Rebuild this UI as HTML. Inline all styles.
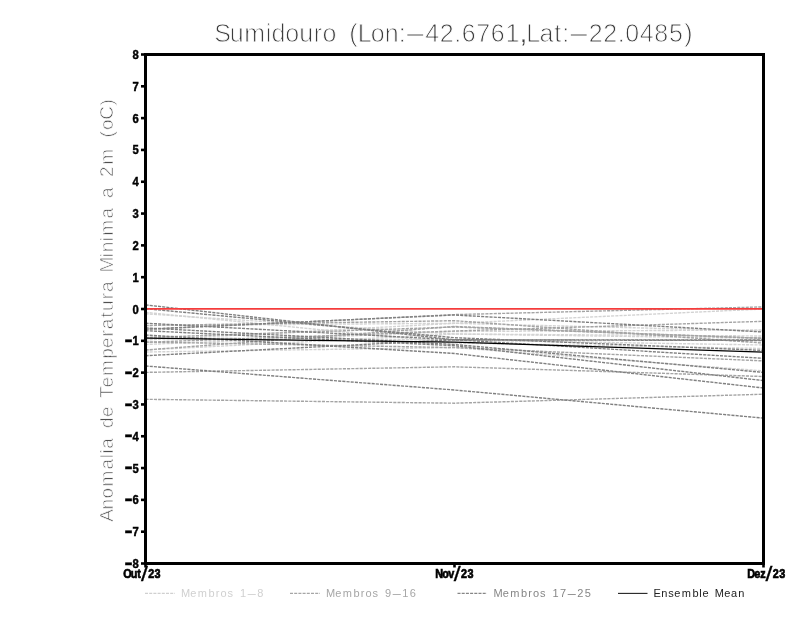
<!DOCTYPE html>
<html lang="pt">
<head>
<meta charset="utf-8">
<title>Sumidouro</title>
<style>
html,body{margin:0;padding:0;background:#fff;}
body{width:800px;height:618px;overflow:hidden;}
svg{display:block;}
text{font-family:"Liberation Sans","DejaVu Sans",sans-serif;white-space:pre;}
.thin{paint-order:fill stroke;stroke:#fff;stroke-linejoin:round;text-anchor:middle;}
.tick{font-weight:bold;font-size:12.5px;fill:#000;stroke:#000;stroke-width:0.45px;}
.leg{font-size:11px;text-anchor:middle;}
.mem{fill:none;stroke-width:1.4;stroke-dasharray:3.1 1.1;}
</style>
</head>
<body>
<svg width="800" height="618" viewBox="0 0 800 618">
<rect x="0" y="0" width="800" height="618" fill="#fff"/>
<text class="thin" x="222.6 236.8 254.7 268.6 278.4 292.3 306.2 317.9 329.5 342.3 353.3 364.6 377.7 391.6 402.2 415.3 432.1 446.7 457.7 468.6 483.2 497.8 512.4 523.4 533.2 546.4 557.7 565.7 578.8 595.6 610.2 621.2 632.1 646.7 661.3 675.9 688.3" y="42" font-size="25" fill="#3c3c3c" stroke-width="0.85" xml:space="preserve">Sumidouro (Lon:<tspan textLength="25" lengthAdjust="spacingAndGlyphs">-</tspan>42.6761<tspan stroke-width="0.2">,</tspan>Lat:<tspan textLength="25" lengthAdjust="spacingAndGlyphs">-</tspan>22.0485)</text>
<text class="thin" transform="translate(112.7 520) rotate(-90)" x="4.7 15.7 26.9 41.4 55.9 63.9 68.6 76.6 86.9 97.3 108.2 118.3 127.8 137.8 152.0 166.5 177.4 186.6 196.1 205.2 214.4 223.9 233.3 243.7 255.5 265.0 273.0 281.0 292.2 306.7 317.0 327.4 337.7 348.4 363.2 376.8 385.6 395.4 407.2 417.6" y="0" font-size="19" fill="#505050" stroke-width="0.7" xml:space="preserve">Anomalia de Temperatura Minima a 2m (oC)</text>
<g class="mem">
<polyline stroke="#d3d3d3" points="145.5,312.4 454.5,343.0 763.5,348.5"/>
<polyline stroke="#d3d3d3" points="145.5,313.8 454.5,334.0 763.5,338.3"/>
<polyline stroke="#d3d3d3" points="145.5,340.0 454.5,323.3 763.5,309.0"/>
<polyline stroke="#d3d3d3" points="145.5,344.5 454.5,331.5 763.5,330.0"/>
<polyline stroke="#d3d3d3" points="145.5,350.0 454.5,334.0 763.5,336.0"/>
<polyline stroke="#d3d3d3" points="145.5,352.0 454.5,347.6 763.5,370.9"/>
<polyline stroke="#d3d3d3" points="145.5,325.5 454.5,323.3 763.5,331.0"/>
<polyline stroke="#d3d3d3" points="145.5,337.6 454.5,340.0 763.5,345.0"/>
<polyline stroke="#a4a4a4" points="145.5,329.5 454.5,314.6 763.5,306.9"/>
<polyline stroke="#a4a4a4" points="145.5,325.5 454.5,320.7 763.5,343.1"/>
<polyline stroke="#a4a4a4" points="145.5,342.3 454.5,331.0 763.5,321.3"/>
<polyline stroke="#a4a4a4" points="145.5,350.0 454.5,326.5 763.5,338.3"/>
<polyline stroke="#a4a4a4" points="145.5,342.0 454.5,347.6 763.5,360.9"/>
<polyline stroke="#a4a4a4" points="145.5,372.4 454.5,366.8 763.5,376.5"/>
<polyline stroke="#a4a4a4" points="145.5,399.3 454.5,403.2 763.5,394.2"/>
<polyline stroke="#a4a4a4" points="145.5,337.5 454.5,327.0 763.5,338.3"/>
<polyline stroke="#808080" points="145.5,304.9 454.5,339.8 763.5,340.0"/>
<polyline stroke="#808080" points="145.5,308.7 454.5,337.7 763.5,350.4"/>
<polyline stroke="#808080" points="145.5,329.1 454.5,315.0 763.5,332.0"/>
<polyline stroke="#808080" points="145.5,323.2 454.5,339.8 763.5,358.3"/>
<polyline stroke="#808080" points="145.5,327.9 454.5,344.5 763.5,372.4"/>
<polyline stroke="#808080" points="145.5,330.7 454.5,345.7 763.5,380.6"/>
<polyline stroke="#808080" points="145.5,355.7 454.5,339.8 763.5,340.5"/>
<polyline stroke="#808080" points="145.5,335.0 454.5,353.5 763.5,388.0"/>
<polyline stroke="#808080" points="145.5,366.0 454.5,390.0 763.5,418.1"/>
</g>
<line x1="145.5" y1="308.8" x2="763.5" y2="308.8" stroke="#f53c3c" stroke-width="1.8"/>
<polyline fill="none" stroke="#000" stroke-width="1.25" points="145.5,338.2 454.5,342.2 763.5,352.2"/>
<rect x="145.5" y="54.5" width="618" height="509" fill="none" stroke="#000" stroke-width="3"/>
<g stroke="#000" stroke-width="2.6">
<line x1="141" y1="563.50" x2="145" y2="563.50"/>
<line x1="141" y1="531.69" x2="145" y2="531.69"/>
<line x1="141" y1="499.88" x2="145" y2="499.88"/>
<line x1="141" y1="468.06" x2="145" y2="468.06"/>
<line x1="141" y1="436.25" x2="145" y2="436.25"/>
<line x1="141" y1="404.44" x2="145" y2="404.44"/>
<line x1="141" y1="372.62" x2="145" y2="372.62"/>
<line x1="141" y1="340.81" x2="145" y2="340.81"/>
<line x1="141" y1="309.00" x2="145" y2="309.00"/>
<line x1="141" y1="277.19" x2="145" y2="277.19"/>
<line x1="141" y1="245.38" x2="145" y2="245.38"/>
<line x1="141" y1="213.56" x2="145" y2="213.56"/>
<line x1="141" y1="181.75" x2="145" y2="181.75"/>
<line x1="141" y1="149.94" x2="145" y2="149.94"/>
<line x1="141" y1="118.12" x2="145" y2="118.12"/>
<line x1="141" y1="86.31" x2="145" y2="86.31"/>
<line x1="141" y1="54.50" x2="145" y2="54.50"/>
<line x1="145.5" y1="564" x2="145.5" y2="567.5"/>
<line x1="454.5" y1="564" x2="454.5" y2="567.5"/>
<line x1="763.5" y1="564" x2="763.5" y2="567.5"/>
</g>
<g class="tick" text-anchor="end">
<text transform="translate(138.8 568.00) scale(0.9 1)"><tspan font-size="19" dy="0.7" textLength="9" lengthAdjust="spacingAndGlyphs">-</tspan><tspan dy="-0.7">8</tspan></text>
<text transform="translate(138.8 536.19) scale(0.9 1)"><tspan font-size="19" dy="0.7" textLength="9" lengthAdjust="spacingAndGlyphs">-</tspan><tspan dy="-0.7">7</tspan></text>
<text transform="translate(138.8 504.38) scale(0.9 1)"><tspan font-size="19" dy="0.7" textLength="9" lengthAdjust="spacingAndGlyphs">-</tspan><tspan dy="-0.7">6</tspan></text>
<text transform="translate(138.8 472.56) scale(0.9 1)"><tspan font-size="19" dy="0.7" textLength="9" lengthAdjust="spacingAndGlyphs">-</tspan><tspan dy="-0.7">5</tspan></text>
<text transform="translate(138.8 440.75) scale(0.9 1)"><tspan font-size="19" dy="0.7" textLength="9" lengthAdjust="spacingAndGlyphs">-</tspan><tspan dy="-0.7">4</tspan></text>
<text transform="translate(138.8 408.94) scale(0.9 1)"><tspan font-size="19" dy="0.7" textLength="9" lengthAdjust="spacingAndGlyphs">-</tspan><tspan dy="-0.7">3</tspan></text>
<text transform="translate(138.8 377.12) scale(0.9 1)"><tspan font-size="19" dy="0.7" textLength="9" lengthAdjust="spacingAndGlyphs">-</tspan><tspan dy="-0.7">2</tspan></text>
<text transform="translate(138.8 345.31) scale(0.9 1)"><tspan font-size="19" dy="0.7" textLength="9" lengthAdjust="spacingAndGlyphs">-</tspan><tspan dy="-0.7">1</tspan></text>
<text transform="translate(138.8 313.50) scale(0.9 1)"><tspan>0</tspan></text>
<text transform="translate(138.8 281.69) scale(0.9 1)"><tspan>1</tspan></text>
<text transform="translate(138.8 249.88) scale(0.9 1)"><tspan>2</tspan></text>
<text transform="translate(138.8 218.06) scale(0.9 1)"><tspan>3</tspan></text>
<text transform="translate(138.8 186.25) scale(0.9 1)"><tspan>4</tspan></text>
<text transform="translate(138.8 154.44) scale(0.9 1)"><tspan>5</tspan></text>
<text transform="translate(138.8 122.62) scale(0.9 1)"><tspan>6</tspan></text>
<text transform="translate(138.8 90.81) scale(0.9 1)"><tspan>7</tspan></text>
<text transform="translate(138.8 59.00) scale(0.9 1)"><tspan>8</tspan></text>
</g>
<g class="tick" text-anchor="middle">
<text transform="translate(124.0 577.5) scale(0.82 1)" x="4.3 12.3 18.3 25.0 33.2 41.0" y="0" font-size="13.2" stroke-width="0.7">Out<tspan font-size="19.5" dy="3" textLength="8.5" lengthAdjust="spacingAndGlyphs" font-weight="normal" stroke-width="0.25">/</tspan><tspan dy="-3">23</tspan></text>
<text transform="translate(435.6 577.5) scale(0.82 1)" x="4.3 12.3 19.1 26.5 34.7 42.5" y="0" font-size="13.2" stroke-width="0.7">Nov<tspan font-size="19.5" dy="3" textLength="8.5" lengthAdjust="spacingAndGlyphs" font-weight="normal" stroke-width="0.25">/</tspan><tspan dy="-3">23</tspan></text>
<text transform="translate(747.7 577.5) scale(0.82 1)" x="4.1 11.7 18.5 26.1 34.3 42.1" y="0" font-size="13.2" stroke-width="0.7">Dez<tspan font-size="19.5" dy="3" textLength="8.5" lengthAdjust="spacingAndGlyphs" font-weight="normal" stroke-width="0.25">/</tspan><tspan dy="-3">23</tspan></text>
</g>
<line x1="145" y1="593.4" x2="175" y2="593.4" stroke="#d0d0d0" stroke-width="1.1" stroke-dasharray="3 1.2"/>
<text class="leg" x="185.5 193.3 202.3 211.5 217.5 223.5 230.2 236.4 243.1 251.7 260.3" y="597" fill="#d0d0d0" xml:space="preserve">Membros 1<tspan textLength="11" lengthAdjust="spacingAndGlyphs">-</tspan>8</text>
<line x1="290" y1="593.4" x2="320" y2="593.4" stroke="#a6a6a6" stroke-width="1.1" stroke-dasharray="3 1.2"/>
<text class="leg" x="330.5 338.3 347.3 356.5 362.5 368.5 375.2 381.4 388.1 396.7 405.3 412.8" y="597" fill="#a6a6a6" xml:space="preserve">Membros 9<tspan textLength="11" lengthAdjust="spacingAndGlyphs">-</tspan>16</text>
<line x1="457.5" y1="593.4" x2="487" y2="593.4" stroke="#868686" stroke-width="1.1" stroke-dasharray="3 1.2"/>
<text class="leg" x="498.0 505.8 514.8 524.0 530.0 536.0 542.7 548.9 555.6 563.1 571.7 580.3 587.8" y="597" fill="#868686" xml:space="preserve">Membros 17<tspan textLength="11" lengthAdjust="spacingAndGlyphs">-</tspan>25</text>
<line x1="618" y1="593.4" x2="647.5" y2="593.4" stroke="#222" stroke-width="1.1"/>
<text class="leg" x="657.1 664.2 670.9 677.4 686.4 695.6 700.6 705.5 711.8 719.3 727.2 734.1 741.2" y="597" fill="#222" xml:space="preserve">Ensemble Mean</text>
</svg>
</body>
</html>
